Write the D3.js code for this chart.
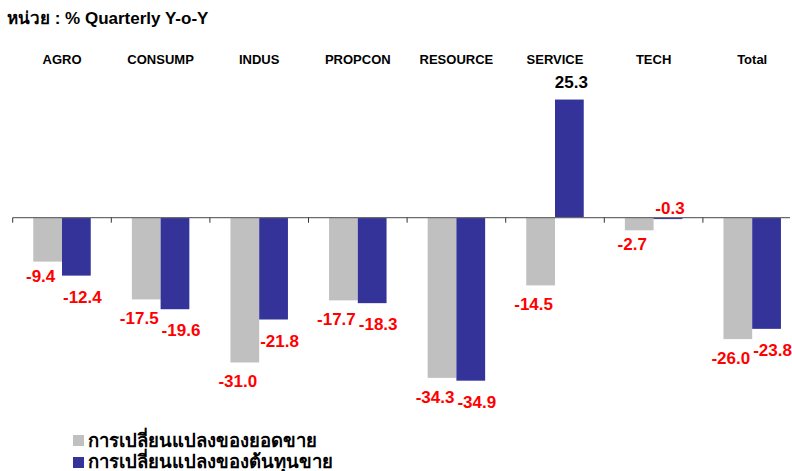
<!DOCTYPE html>
<html>
<head>
<meta charset="utf-8">
<script src="https://cdn.jsdelivr.net/npm/d3@7"></script>
<style>
  html, body { margin: 0; padding: 0; background: #fff; }
  svg { display: block; font-family: "Liberation Sans", Arial, sans-serif; }
</style>
</head>
<body>
<svg id="chart" width="792" height="471"></svg>
<script>
const categories = ["AGRO", "CONSUMP", "INDUS", "PROPCON", "RESOURCE", "SERVICE", "TECH", "Total"];
const salesChange = [-9.4, -17.5, -31.0, -17.7, -34.3, -14.5, -2.7, -26.0];
const costChange = [-12.4, -19.6, -21.8, -18.3, -34.9, 25.3, -0.3, -23.8];
const seriesNames = ["การเปลี่ยนแปลงของยอดขาย", "การเปลี่ยนแปลงของต้นทุนขาย"];
const titleText = "หน่วย : % Quarterly Y-o-Y";

const colors = ["#C0C0C0", "#333399"];
const seriesValues = [salesChange, costChange];

const svg = d3.select("#chart");

const x0 = d3.scaleBand().domain(categories).range([12.7, 801.5]).padding(0);
const x1 = d3.scaleBand().domain([0, 1]).range([0, x0.bandwidth()]).paddingInner(0).paddingOuter(0.715);
const y = d3.scaleLinear().domain([-40, 30]).range([217.7 + 40 * 4.67, 217.7 - 30 * 4.67]);

// title
svg.append("text").attr("x", 7).attr("y", 24)
  .attr("font-size", 17).attr("font-weight", "bold").attr("fill", "#000")
  .text(titleText);

// category labels
svg.append("g").selectAll("text").data(categories).join("text")
  .attr("x", d => x0(d) + x0.bandwidth() / 2)
  .attr("y", 64)
  .attr("text-anchor", "middle")
  .attr("font-size", 13).attr("font-weight", "bold").attr("fill", "#000")
  .text(d => d);

// bars
const flat = [];
categories.forEach((c, i) => {
  seriesValues.forEach((vals, s) => flat.push({ c, s, v: vals[i] }));
});

svg.append("g").selectAll("rect").data(flat).join("rect")
  .attr("x", d => x0(d.c) + x1(d.s))
  .attr("width", x1.bandwidth())
  .attr("y", d => Math.min(y(d.v), y(0)))
  .attr("height", d => Math.abs(y(d.v) - y(0)))
  .attr("fill", d => colors[d.s]);

// axis
const axisG = svg.append("g");
axisG.append("line")
  .attr("x1", x0.range()[0]).attr("x2", 790)
  .attr("y1", y(0)).attr("y2", y(0))
  .attr("stroke", "#6b6b6b").attr("stroke-width", 1.2);
axisG.selectAll("line.tick").data(categories).join("line")
  .attr("class", "tick")
  .attr("x1", d => x0(d)).attr("x2", d => x0(d))
  .attr("y1", y(0)).attr("y2", y(0) + 5)
  .attr("stroke", "#333").attr("stroke-width", 1);

// value labels
const dxBySeries = [-7, 6];
svg.append("g").selectAll("text").data(flat).join("text")
  .attr("x", d => x0(d.c) + x1(d.s) + x1.bandwidth() / 2 + (d.v < 0 && Math.abs(d.v) >= 1 ? dxBySeries[d.s] : 2))
  .attr("y", d => {
    if (d.v >= 0) return y(d.v) - 12;
    if (Math.abs(d.v) < 1) return y(0) - 4;
    if (Math.abs(d.v) < 10) return y(d.v) + 20;
    return y(d.v) + (d.s === 0 ? 25 : 27);
  })
  .attr("text-anchor", "middle")
  .attr("font-size", 17).attr("font-weight", "bold")
  .attr("fill", d => d.v >= 0 ? "#000" : "#FF0000")
  .text(d => d.v.toFixed(1));

// legend
const legend = svg.append("g");
seriesNames.forEach((name, i) => {
  legend.append("rect").attr("x", 73).attr("y", 435 + i * 22)
    .attr("width", 11).attr("height", 11).attr("fill", colors[i]);
  legend.append("text").attr("x", 88).attr("y", 447 + i * 21)
    .attr("font-size", 18.5).attr("font-weight", "bold").attr("fill", "#000")
    .text(name);
});
</script>
</body>
</html>
